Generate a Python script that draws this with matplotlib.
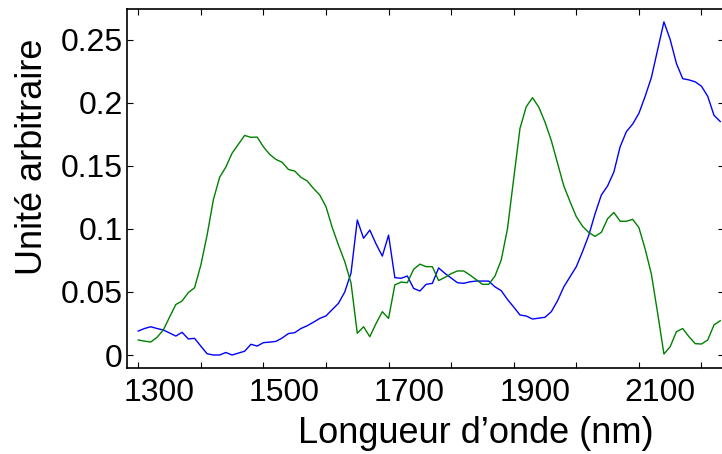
import numpy as np
import matplotlib
matplotlib.use("Agg")
import matplotlib.pyplot as plt
from matplotlib.ticker import MultipleLocator
from matplotlib.transforms import ScaledTranslation

plt.rcParams['font.family'] = ['Liberation Sans', 'DejaVu Sans']

wavelength = np.arange(1300, 2231, 10)

blue = [
    0.019, 0.021, 0.0224, 0.021, 0.0198, 0.0175, 0.015, 0.018, 0.0127, 0.0132,
    0.007, 0.001, 0.0, 0.0, 0.002, 0.0, 0.0015, 0.003, 0.0085, 0.0071,
    0.0098, 0.0102, 0.0108, 0.0135, 0.017, 0.0177, 0.021, 0.0232, 0.026, 0.029,
    0.031, 0.036, 0.041, 0.050, 0.065, 0.107, 0.0925, 0.099, 0.088, 0.0784,
    0.095, 0.0613, 0.0608, 0.0626, 0.0528, 0.0507, 0.056, 0.0568, 0.069, 0.0647,
    0.061, 0.0573, 0.0568, 0.058, 0.0586, 0.0586, 0.0586, 0.054, 0.051, 0.044,
    0.038, 0.0317, 0.0309, 0.0285, 0.0292, 0.0299, 0.0343, 0.043, 0.054, 0.062,
    0.070, 0.082, 0.095, 0.112, 0.1268, 0.134, 0.145, 0.165, 0.177, 0.183,
    0.1915, 0.205, 0.220, 0.242, 0.264, 0.250, 0.231, 0.219, 0.218, 0.2165,
    0.213, 0.205, 0.190, 0.185,
]

green = [
    0.0119, 0.011, 0.0103, 0.014, 0.0198, 0.030, 0.040, 0.0428, 0.0495, 0.0533,
    0.0713, 0.095, 0.123, 0.1408, 0.149, 0.160, 0.167, 0.174, 0.1725, 0.1727,
    0.165, 0.159, 0.155, 0.1527, 0.147, 0.1458, 0.1408, 0.1379, 0.132, 0.1268,
    0.1175, 0.101, 0.087, 0.074, 0.057, 0.0172, 0.0224, 0.0145, 0.025, 0.0343,
    0.029, 0.0555, 0.0578, 0.0573, 0.0679, 0.072, 0.070, 0.070, 0.059, 0.0615,
    0.0645, 0.0666, 0.0666, 0.0634, 0.0597, 0.056, 0.056, 0.0625, 0.0753, 0.100,
    0.140, 0.1796, 0.1968, 0.2039, 0.1965, 0.1845, 0.170, 0.152, 0.134, 0.1215,
    0.1096, 0.102, 0.097, 0.094, 0.0972, 0.108, 0.113, 0.106, 0.106, 0.1075,
    0.101, 0.084, 0.064, 0.033, 0.0008, 0.0066, 0.0185, 0.021, 0.0145, 0.009,
    0.0087, 0.0119, 0.0238, 0.0272,
]

xtick_vals = [1300, 1500, 1700, 1900, 2100]
xtick_labels = ['1300', '1500', '1700', '1900', '2100']
ytick_vals = [0, 0.05, 0.1, 0.15, 0.2, 0.25]
ytick_labels = ['0', '0.05', '0.1', '0.15', '0.2', '0.25']

assert len(blue) == len(wavelength) == len(green)

W, H = 722, 454
fig = plt.figure(figsize=(W / 100, H / 100), dpi=100)
ax = fig.add_axes([127 / W, 1 - 368 / H, (724 - 127) / W, (368 - 9) / H])

ax.plot(wavelength, blue, color='#0000ff', lw=1.0)
ax.plot(wavelength, green, color='#008000', lw=1.0)

ax.set_xlim(1282, 2236)
ax.set_ylim(-0.0103, 0.2742)

ax.xaxis.set_minor_locator(MultipleLocator(100))
ax.set_yticks(ytick_vals)
ax.set_yticklabels(ytick_labels)
ax.set_xticks(xtick_vals)
ax.set_xticklabels(xtick_labels)

ax.tick_params(which='both', direction='in', top=True, right=True,
               length=4, width=0.8, labelsize=23)
ax.tick_params(axis='x', pad=7)
ax.tick_params(axis='y', pad=3)
for s in ax.spines.values():
    s.set_linewidth(1.2)

# labels in the reference sit a little to the right of their ticks
shift = ScaledTranslation(21 / 100, 0, fig.dpi_scale_trans)
for lbl in ax.get_xticklabels():
    lbl.set_transform(lbl.get_transform() + shift)

fig.text(33 / W, 1 - 157 / H, 'Unité arbitraire', rotation=90,
         ha='center', va='center', fontsize=26)
fig.text(476 / W, 1 - 443 / H, 'Longueur d\u2019onde (nm)',
         ha='center', va='baseline', fontsize=26)

fig.savefig('out.png', dpi=100)
